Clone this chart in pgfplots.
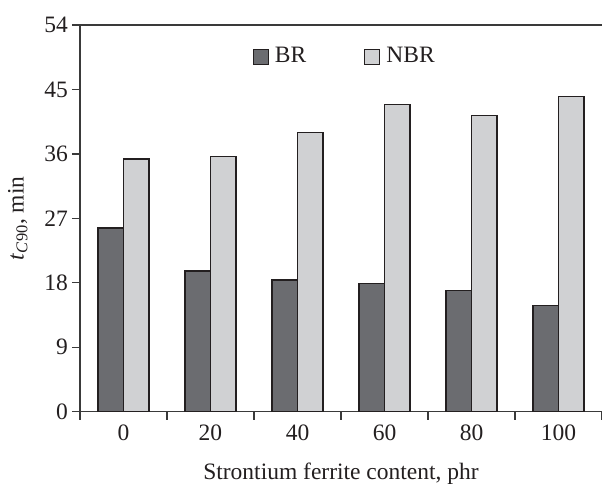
\documentclass[border=0pt]{standalone}
\usepackage{fontspec}
\setmainfont{Liberation Serif}
\usepackage{pgfplots}
\pgfplotsset{compat=1.18}
\definecolor{brc}{HTML}{6B6C70}
\definecolor{nbrc}{HTML}{D0D1D3}
\definecolor{edgec}{HTML}{231F20}
\definecolor{axc}{HTML}{3A3A3A}
\begin{document}
\fontsize{23.5}{28}\selectfont
\begin{tikzpicture}[x=1pt,y=1pt]
\path[use as bounding box] (-80,-71.3) rectangle (522,411.7);
\begin{axis}[
  at={(0,0)}, anchor=south west,
  width=522pt, height=386.7pt, scale only axis,
  xmin=-0.5, xmax=5.5, ymin=0, ymax=54,
  ytick={0,9,...,54},
  xtick={0,...,5}, xticklabels={0,20,40,60,80,100},
  minor xtick={-0.5,0.5,1.5,2.5,3.5,4.5,5.5},
  axis x line=box, axis y line=left,
  axis line style={-, draw=axc, line width=1.3pt},
  xtick pos=bottom, ytick pos=left,
  tick align=outside,
  major tick length=8pt, minor tick length=8pt,
  major x tick style={draw=none},
  minor x tick style={draw=axc, line width=1.3pt},
  major y tick style={draw=axc, line width=1.3pt},
  tick label style={font=\fontsize{23.5}{28}\selectfont, text=edgec},
  label style={font=\fontsize{23.5}{28}\selectfont, text=edgec},
  yticklabel style={inner xsep=4pt},
  xticklabel style={inner ysep=5pt},
  /pgf/number format/assume math mode=true,
  ybar, bar width=25.5pt,
  ylabel={\textit{t}\textsubscript{\textit{C}90}, min},
  ylabel style={at={(axis description cs:-0.119,0.5)}, anchor=center},
  xlabel={Strontium ferrite content, phr},
  xlabel style={at={(axis description cs:0.5,0)}, anchor=base, yshift=-67.3pt},
  legend style={draw=none, fill=none, at={(rel axis cs:0.325,0.918)}, anchor=west,
    font=\fontsize{23.5}{28}\selectfont, text=edgec,
    /tikz/every even column/.append style={column sep=56pt}},
  legend columns=2,
  legend image code/.code={\draw[#1, line width=1pt] (0pt,-7.5pt) rectangle (15pt,7.5pt); \path (19pt,0pt);},
]
\addplot[fill=brc, draw=edgec, line width=1.3pt, bar shift=-12.75pt]
  coordinates {(0,25.65) (1,19.65) (2,18.4) (3,17.9) (4,16.95) (5,14.8)};
\addplot[fill=nbrc, draw=edgec, line width=1.3pt, bar shift=12.75pt]
  coordinates {(0,35.3) (1,35.65) (2,39.0) (3,42.9) (4,41.4) (5,44.05)};
\legend{BR, NBR}
\end{axis}
\end{tikzpicture}
\end{document}
